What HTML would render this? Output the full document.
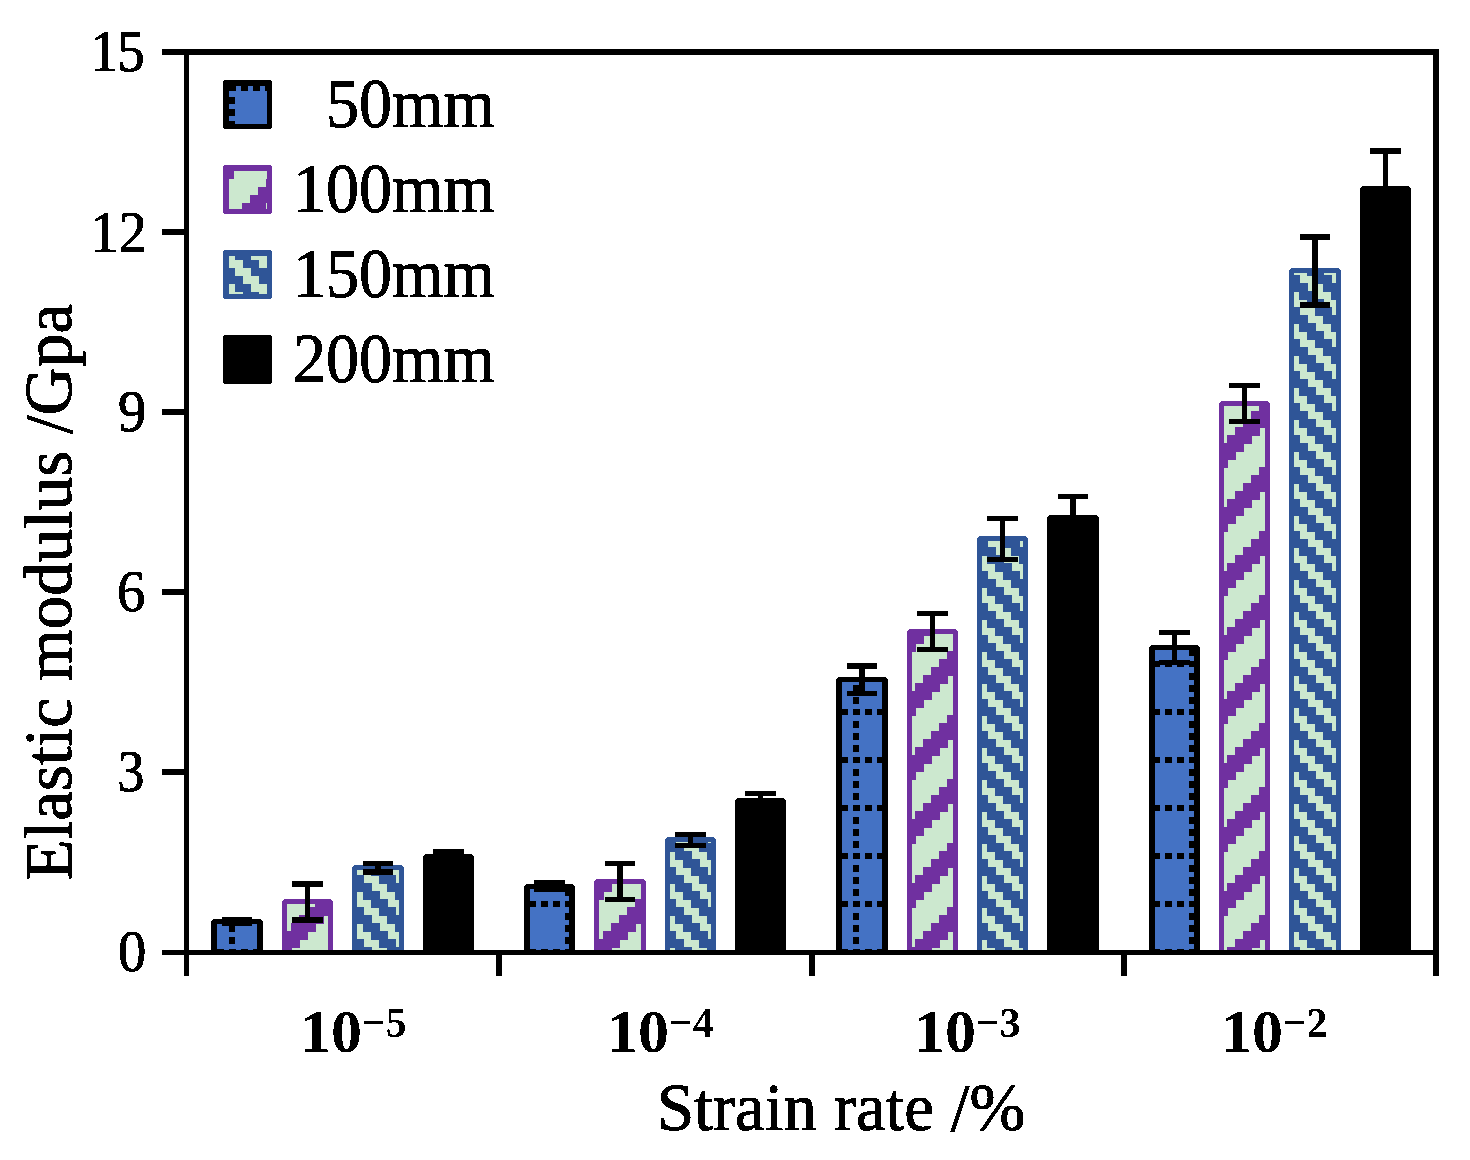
<!DOCTYPE html>
<html><head><meta charset="utf-8"><title>Elastic modulus vs strain rate</title>
<style>
html,body{margin:0;padding:0;background:#fff;}
body{width:1470px;height:1160px;overflow:hidden;}
svg{display:block;}
text{font-family:"Liberation Serif",serif;fill:#000;}
</style></head><body>
<svg width="1470" height="1160" viewBox="0 0 1470 1160" shape-rendering="crispEdges">
<defs>
<pattern id="p50" patternUnits="userSpaceOnUse" x="37" y="37" width="48" height="48"><rect width="48" height="48" fill="#4472C4"/><rect x="0" y="0" width="6.5" height="6" fill="#000"/><rect x="12" y="0" width="6.5" height="6" fill="#000"/><rect x="24" y="0" width="6.5" height="6" fill="#000"/><rect x="36" y="0" width="6.5" height="6" fill="#000"/><rect x="0" y="12" width="6" height="6.5" fill="#000"/><rect x="0" y="24" width="6" height="6.5" fill="#000"/><rect x="0" y="36" width="6" height="6.5" fill="#000"/></pattern>
<pattern id="p100" patternUnits="userSpaceOnUse" x="11" y="27" width="64" height="64"><rect width="64" height="64" fill="#CCE8CF"/><path transform="translate(0,0)" d="M0 24h8v8h-8zM0 32h8v8h-8zM0 40h8v8h-8zM8 16h8v8h-8zM8 24h8v8h-8zM8 32h8v8h-8zM16 8h8v8h-8zM16 16h8v8h-8zM16 24h8v8h-8zM24 0h8v8h-8zM24 8h8v8h-8zM24 16h8v8h-8zM32 0h8v8h-8zM32 8h8v8h-8zM32 56h8v8h-8zM40 0h8v8h-8zM40 48h8v8h-8zM40 56h8v8h-8zM48 40h8v8h-8zM48 48h8v8h-8zM48 56h8v8h-8zM56 32h8v8h-8zM56 40h8v8h-8zM56 48h8v8h-8z" fill="#7030A0"/><path transform="translate(1,1)" d="M0 24h8v8h-8zM0 32h8v8h-8zM0 40h8v8h-8zM8 16h8v8h-8zM8 24h8v8h-8zM8 32h8v8h-8zM16 8h8v8h-8zM16 16h8v8h-8zM16 24h8v8h-8zM24 0h8v8h-8zM24 8h8v8h-8zM24 16h8v8h-8zM32 0h8v8h-8zM32 8h8v8h-8zM32 56h8v8h-8zM40 0h8v8h-8zM40 48h8v8h-8zM40 56h8v8h-8zM48 40h8v8h-8zM48 48h8v8h-8zM48 56h8v8h-8zM56 32h8v8h-8zM56 40h8v8h-8zM56 48h8v8h-8z" fill="#7030A0"/><path transform="translate(1,-63)" d="M0 24h8v8h-8zM0 32h8v8h-8zM0 40h8v8h-8zM8 16h8v8h-8zM8 24h8v8h-8zM8 32h8v8h-8zM16 8h8v8h-8zM16 16h8v8h-8zM16 24h8v8h-8zM24 0h8v8h-8zM24 8h8v8h-8zM24 16h8v8h-8zM32 0h8v8h-8zM32 8h8v8h-8zM32 56h8v8h-8zM40 0h8v8h-8zM40 48h8v8h-8zM40 56h8v8h-8zM48 40h8v8h-8zM48 48h8v8h-8zM48 56h8v8h-8zM56 32h8v8h-8zM56 40h8v8h-8zM56 48h8v8h-8z" fill="#7030A0"/><path transform="translate(-63,1)" d="M0 24h8v8h-8zM0 32h8v8h-8zM0 40h8v8h-8zM8 16h8v8h-8zM8 24h8v8h-8zM8 32h8v8h-8zM16 8h8v8h-8zM16 16h8v8h-8zM16 24h8v8h-8zM24 0h8v8h-8zM24 8h8v8h-8zM24 16h8v8h-8zM32 0h8v8h-8zM32 8h8v8h-8zM32 56h8v8h-8zM40 0h8v8h-8zM40 48h8v8h-8zM40 56h8v8h-8zM48 40h8v8h-8zM48 48h8v8h-8zM48 56h8v8h-8zM56 32h8v8h-8zM56 40h8v8h-8zM56 48h8v8h-8z" fill="#7030A0"/><path transform="translate(-63,-63)" d="M0 24h8v8h-8zM0 32h8v8h-8zM0 40h8v8h-8zM8 16h8v8h-8zM8 24h8v8h-8zM8 32h8v8h-8zM16 8h8v8h-8zM16 16h8v8h-8zM16 24h8v8h-8zM24 0h8v8h-8zM24 8h8v8h-8zM24 16h8v8h-8zM32 0h8v8h-8zM32 8h8v8h-8zM32 56h8v8h-8zM40 0h8v8h-8zM40 48h8v8h-8zM40 56h8v8h-8zM48 40h8v8h-8zM48 48h8v8h-8zM48 56h8v8h-8zM56 32h8v8h-8zM56 40h8v8h-8zM56 48h8v8h-8z" fill="#7030A0"/></pattern>
<pattern id="p150" patternUnits="userSpaceOnUse" x="19" y="12" width="32" height="32"><rect width="32" height="32" fill="#2F5597"/><path d="M0 0h8v8h-8zM0 8h8v8h-8zM8 8h8v8h-8zM8 16h8v8h-8zM16 16h8v8h-8zM16 24h8v8h-8zM24 0h8v8h-8zM24 24h8v8h-8z" fill="#CCE8CF"/><path transform="translate(1,-1)" d="M0 16h8v8h-8zM0 24h8v8h-8zM8 0h8v8h-8zM8 24h8v8h-8zM16 0h8v8h-8zM16 8h8v8h-8zM24 8h8v8h-8zM24 16h8v8h-8z" fill="#2F5597"/><path transform="translate(-31,-1)" d="M0 16h8v8h-8zM0 24h8v8h-8zM8 0h8v8h-8zM8 24h8v8h-8zM16 0h8v8h-8zM16 8h8v8h-8zM24 8h8v8h-8zM24 16h8v8h-8z" fill="#2F5597"/><path transform="translate(1,31)" d="M0 16h8v8h-8zM0 24h8v8h-8zM8 0h8v8h-8zM8 24h8v8h-8zM16 0h8v8h-8zM16 8h8v8h-8zM24 8h8v8h-8zM24 16h8v8h-8z" fill="#2F5597"/><path transform="translate(-31,31)" d="M0 16h8v8h-8zM0 24h8v8h-8zM8 0h8v8h-8zM8 24h8v8h-8zM16 0h8v8h-8zM16 8h8v8h-8zM24 8h8v8h-8zM24 16h8v8h-8z" fill="#2F5597"/></pattern>
<pattern id="p100L" patternUnits="userSpaceOnUse" x="10" y="27" width="64" height="64"><rect width="64" height="64" fill="#CCE8CF"/><path d="M0 24h8v8h-8zM0 32h8v8h-8zM0 40h8v8h-8zM8 16h8v8h-8zM8 24h8v8h-8zM8 32h8v8h-8zM16 8h8v8h-8zM16 16h8v8h-8zM16 24h8v8h-8zM24 0h8v8h-8zM24 8h8v8h-8zM24 16h8v8h-8zM32 0h8v8h-8zM32 8h8v8h-8zM32 56h8v8h-8zM40 0h8v8h-8zM40 48h8v8h-8zM40 56h8v8h-8zM48 40h8v8h-8zM48 48h8v8h-8zM48 56h8v8h-8zM56 32h8v8h-8zM56 40h8v8h-8zM56 48h8v8h-8z" fill="#7030A0"/></pattern>
<pattern id="p150L" patternUnits="userSpaceOnUse" x="19" y="12" width="32" height="32"><rect width="32" height="32" fill="#2F5597"/><path d="M0 0h8v8h-8zM0 8h8v8h-8zM8 8h8v8h-8zM8 16h8v8h-8zM16 16h8v8h-8zM16 24h8v8h-8zM24 0h8v8h-8zM24 24h8v8h-8z" fill="#CCE8CF"/></pattern>
<filter id="bin" x="0" y="0" width="1470" height="1160" filterUnits="userSpaceOnUse"><feComponentTransfer><feFuncA type="discrete" tableValues="0 1"/></feComponentTransfer></filter>
</defs>
<rect width="1470" height="1160" fill="#fff"/>
<rect x="211" y="919" width="52" height="36" rx="4" fill="#000"/>
<rect x="217" y="924" width="40" height="31" fill="url(#p50)"/>
<rect x="282" y="899" width="51" height="56" rx="4" fill="#7030A0"/>
<rect x="287" y="904" width="41" height="51" fill="url(#p100)"/>
<rect x="352" y="865" width="52" height="90" rx="4" fill="#2F5597"/>
<rect x="357" y="870" width="42" height="85" fill="url(#p150)"/>
<rect x="423" y="854" width="51" height="101" rx="4" fill="#000"/>
<rect x="524" y="884" width="51" height="71" rx="4" fill="#000"/>
<rect x="530" y="889" width="39" height="66" fill="url(#p50)"/>
<rect x="594" y="879" width="52" height="76" rx="4" fill="#7030A0"/>
<rect x="599" y="884" width="42" height="71" fill="url(#p100)"/>
<rect x="665" y="837" width="51" height="118" rx="4" fill="#2F5597"/>
<rect x="670" y="842" width="41" height="113" fill="url(#p150)"/>
<rect x="735" y="798" width="51" height="157" rx="4" fill="#000"/>
<rect x="836" y="677" width="52" height="278" rx="4" fill="#000"/>
<rect x="842" y="682" width="40" height="273" fill="url(#p50)"/>
<rect x="907" y="629" width="51" height="326" rx="4" fill="#7030A0"/>
<rect x="912" y="634" width="41" height="321" fill="url(#p100)"/>
<rect x="977" y="536" width="51" height="419" rx="4" fill="#2F5597"/>
<rect x="982" y="541" width="41" height="414" fill="url(#p150)"/>
<rect x="1047" y="515" width="52" height="440" rx="4" fill="#000"/>
<rect x="1149" y="645" width="51" height="310" rx="4" fill="#000"/>
<rect x="1155" y="650" width="39" height="305" fill="url(#p50)"/>
<rect x="1219" y="401" width="51" height="554" rx="4" fill="#7030A0"/>
<rect x="1224" y="406" width="41" height="549" fill="url(#p100)"/>
<rect x="1289" y="268" width="52" height="687" rx="4" fill="#2F5597"/>
<rect x="1294" y="273" width="42" height="682" fill="url(#p150)"/>
<rect x="1360" y="186" width="51" height="769" rx="4" fill="#000"/>
<rect x="234.25" y="919.50" width="5.5" height="4.00" fill="#000"/>
<rect x="221.75" y="916.75" width="30.5" height="5.5" fill="#000"/>
<rect x="221.75" y="920.75" width="30.5" height="5.5" fill="#000"/>
<rect x="304.75" y="884.00" width="5.5" height="36.00" fill="#000"/>
<rect x="292.25" y="881.25" width="30.5" height="5.5" fill="#000"/>
<rect x="292.25" y="917.25" width="30.5" height="5.5" fill="#000"/>
<rect x="375.25" y="863.50" width="5.5" height="8.50" fill="#000"/>
<rect x="362.75" y="860.75" width="30.5" height="5.5" fill="#000"/>
<rect x="362.75" y="869.25" width="30.5" height="5.5" fill="#000"/>
<rect x="445.75" y="852.00" width="5.5" height="9.00" fill="#000"/>
<rect x="433.25" y="849.25" width="30.5" height="5.5" fill="#000"/>
<rect x="433.25" y="858.25" width="30.5" height="5.5" fill="#000"/>
<rect x="546.75" y="882.50" width="5.5" height="6.50" fill="#000"/>
<rect x="534.25" y="879.75" width="30.5" height="5.5" fill="#000"/>
<rect x="534.25" y="886.25" width="30.5" height="5.5" fill="#000"/>
<rect x="617.25" y="863.50" width="5.5" height="36.00" fill="#000"/>
<rect x="604.75" y="860.75" width="30.5" height="5.5" fill="#000"/>
<rect x="604.75" y="896.75" width="30.5" height="5.5" fill="#000"/>
<rect x="687.75" y="834.50" width="5.5" height="10.80" fill="#000"/>
<rect x="675.25" y="831.75" width="30.5" height="5.5" fill="#000"/>
<rect x="675.25" y="842.55" width="30.5" height="5.5" fill="#000"/>
<rect x="757.75" y="793.50" width="5.5" height="14.00" fill="#000"/>
<rect x="745.25" y="790.75" width="30.5" height="5.5" fill="#000"/>
<rect x="745.25" y="804.75" width="30.5" height="5.5" fill="#000"/>
<rect x="859.25" y="666.00" width="5.5" height="27.50" fill="#000"/>
<rect x="846.75" y="663.25" width="30.5" height="5.5" fill="#000"/>
<rect x="846.75" y="690.75" width="30.5" height="5.5" fill="#000"/>
<rect x="929.75" y="613.50" width="5.5" height="36.00" fill="#000"/>
<rect x="917.25" y="610.75" width="30.5" height="5.5" fill="#000"/>
<rect x="917.25" y="646.75" width="30.5" height="5.5" fill="#000"/>
<rect x="999.75" y="518.50" width="5.5" height="41.00" fill="#000"/>
<rect x="987.25" y="515.75" width="30.5" height="5.5" fill="#000"/>
<rect x="987.25" y="556.75" width="30.5" height="5.5" fill="#000"/>
<rect x="1070.25" y="496.50" width="5.5" height="42.00" fill="#000"/>
<rect x="1057.75" y="493.75" width="30.5" height="5.5" fill="#000"/>
<rect x="1057.75" y="535.75" width="30.5" height="5.5" fill="#000"/>
<rect x="1171.75" y="632.50" width="5.5" height="30.00" fill="#000"/>
<rect x="1159.25" y="629.75" width="30.5" height="5.5" fill="#000"/>
<rect x="1159.25" y="659.75" width="30.5" height="5.5" fill="#000"/>
<rect x="1241.75" y="385.50" width="5.5" height="36.00" fill="#000"/>
<rect x="1229.25" y="382.75" width="30.5" height="5.5" fill="#000"/>
<rect x="1229.25" y="418.75" width="30.5" height="5.5" fill="#000"/>
<rect x="1312.25" y="237.00" width="5.5" height="68.00" fill="#000"/>
<rect x="1299.75" y="234.25" width="30.5" height="5.5" fill="#000"/>
<rect x="1299.75" y="302.25" width="30.5" height="5.5" fill="#000"/>
<rect x="1382.75" y="151.00" width="5.5" height="75.00" fill="#000"/>
<rect x="1370.25" y="148.25" width="30.5" height="5.5" fill="#000"/>
<rect x="1370.25" y="223.25" width="30.5" height="5.5" fill="#000"/>
<rect x="184" y="49" width="5" height="927" fill="#000"/>
<rect x="162" y="49" width="1277" height="6" fill="#000"/>
<rect x="1433" y="49" width="6" height="927" fill="#000"/>
<rect x="162" y="950" width="1277" height="5" fill="#000"/>
<rect x="162" y="229" width="24" height="6" fill="#000"/>
<rect x="162" y="409" width="24" height="6" fill="#000"/>
<rect x="162" y="589" width="24" height="6" fill="#000"/>
<rect x="162" y="769" width="24" height="6" fill="#000"/>
<rect x="496" y="950" width="6" height="26" fill="#000"/>
<rect x="808.5" y="950" width="6" height="26" fill="#000"/>
<rect x="1121" y="950" width="6" height="26" fill="#000"/>
<rect x="225.75" y="82.75" width="43.5" height="43.5" fill="url(#p50)" stroke="#000" stroke-width="5.5" stroke-linejoin="round"/>
<rect x="225.75" y="167.75" width="43.5" height="43.5" fill="url(#p100L)" stroke="#7030A0" stroke-width="5.5" stroke-linejoin="round"/>
<rect x="225.75" y="252.75" width="43.5" height="43.5" fill="url(#p150L)" stroke="#2F5597" stroke-width="5.5" stroke-linejoin="round"/>
<rect x="225.75" y="337.75" width="43.5" height="43.5" fill="#000" stroke="#000" stroke-width="5.5" stroke-linejoin="round"/>
<g shape-rendering="auto" filter="url(#bin)">
<text transform="translate(118.08,971) scale(0.96,1)" font-family="Liberation Serif" stroke="#000" stroke-width="0.9" font-size="59">0</text>
<text transform="translate(117.22,791) scale(0.925,1)" font-family="Liberation Serif" stroke="#000" stroke-width="0.9" font-size="59">3</text>
<text transform="translate(117.12,611) scale(0.96,1)" font-family="Liberation Serif" stroke="#000" stroke-width="0.9" font-size="59">6</text>
<text transform="translate(118.08,431) scale(0.96,1)" font-family="Liberation Serif" stroke="#000" stroke-width="0.9" font-size="59">9</text>
<text transform="translate(90.18,251.5) scale(0.961,1)" font-family="Liberation Serif" stroke="#000" stroke-width="0.9" font-size="59">12</text>
<text transform="translate(90.40,71.2) scale(0.921,1)" font-family="Liberation Serif" stroke="#000" stroke-width="0.9" font-size="59">15</text>
<text transform="translate(325.94,127.10) scale(0.972,1.011)" font-family="Liberation Serif" stroke="#000" stroke-width="0.9" font-size="68">50mm</text>
<text transform="translate(292.90,212.10) scale(0.972,1.011)" font-family="Liberation Serif" stroke="#000" stroke-width="0.9" font-size="68">100mm</text>
<text transform="translate(292.90,297.10) scale(0.972,1.011)" font-family="Liberation Serif" stroke="#000" stroke-width="0.9" font-size="68">150mm</text>
<text transform="translate(292.90,382.10) scale(0.972,1.011)" font-family="Liberation Serif" stroke="#000" stroke-width="0.9" font-size="68">200mm</text>
<text x="300" y="1052" font-family="Liberation Serif" font-size="62" font-weight="bold">10<tspan font-size="41.5" dy="-16">−</tspan><tspan font-size="41.5" dy="1">5</tspan></text>
<text x="607" y="1052" font-family="Liberation Serif" font-size="62" font-weight="bold">10<tspan font-size="41.5" dy="-16">−</tspan><tspan font-size="41.5" dy="1">4</tspan></text>
<text x="914" y="1052" font-family="Liberation Serif" font-size="62" font-weight="bold">10<tspan font-size="41.5" dy="-16">−</tspan><tspan font-size="41.5" dy="1">3</tspan></text>
<text x="1221" y="1052" font-family="Liberation Serif" font-size="62" font-weight="bold">10<tspan font-size="41.5" dy="-16">−</tspan><tspan font-size="41.5" dy="1">2</tspan></text>
<text transform="translate(656.9,1130) scale(1,1.012)" font-family="Liberation Serif" stroke="#000" stroke-width="0.9" font-size="67">Strain rate /%</text>
<text transform="translate(71.2,880.4) rotate(-90) scale(0.9993,1.0)" font-family="Liberation Serif" stroke="#000" stroke-width="0.9" font-size="67">Elastic modulus /Gpa</text>
</g>
</svg>
</body></html>
